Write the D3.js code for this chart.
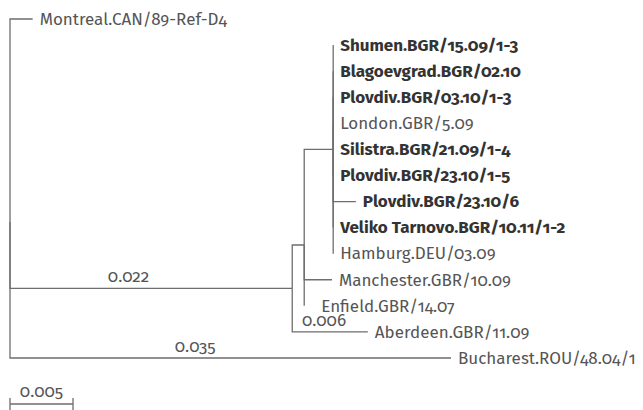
<!DOCTYPE html>
<html>
<head>
<meta charset="utf-8">
<script src="https://cdn.jsdelivr.net/npm/d3@7"></script>
<style>
  body { margin: 0; background: #fff; }
  svg text {
    font-family: "Fira Sans", "Open Sans", "Noto Sans", sans-serif;
    font-variant-numeric: oldstyle-nums;
    font-feature-settings: "onum" 1;
  }
</style>
</head>
<body>
<svg id="tree" width="643" height="410"></svg>
<script>
// tree as flat lists: node id, its parent, branch length (substitutions/site)
var nodeIds = ["root", "Montreal.CAN/89-Ref-D4", "n1", "n2", "n3",
  "Shumen.BGR/15.09/1-3", "Blagoevgrad.BGR/02.10", "Plovdiv.BGR/03.10/1-3",
  "London.GBR/5.09", "Silistra.BGR/21.09/1-4", "Plovdiv.BGR/23.10/1-5",
  "Plovdiv.BGR/23.10/6", "Veliko Tarnovo.BGR/10.11/1-2", "Hamburg.DEU/03.09",
  "Manchester.GBR/10.09", "Enfield.GBR/14.07", "Aberdeen.GBR/11.09",
  "Bucharest.ROU/48.04/1"];
var parentIds = ["", "root", "root", "n1", "n2",
  "n3", "n3", "n3", "n3", "n3", "n3", "n3", "n3", "n3",
  "n2", "n2", "n1", "root"];
var branchLengths = [0, 0.0018, 0.0224, 0.00095, 0.0023,
  0, 0, 0, 0, 0, 0, 0.0018, 0, 0,
  0.0022, 0, 0.006, 0.035];
// strains from this study, drawn in bold
var boldLeaves = ["Shumen.BGR/15.09/1-3", "Blagoevgrad.BGR/02.10",
  "Plovdiv.BGR/03.10/1-3", "Silistra.BGR/21.09/1-4", "Plovdiv.BGR/23.10/1-5",
  "Plovdiv.BGR/23.10/6", "Veliko Tarnovo.BGR/10.11/1-2"];
var scaleBarLength = 0.005;

var rows = nodeIds.map(function (id, i) {
  return { id: id, parent: parentIds[i], length: branchLengths[i] };
});

var root = d3.stratify()
  .id(function (d) { return d.id; })
  .parentId(function (d) { return d.parent; })(rows);

d3.cluster().nodeSize([1, 1]).separation(function () { return 1; })(root);

root.eachBefore(function (d) {
  d.len = d.parent ? d.parent.len + d.data.length : 0;
});

var leaves = root.leaves();

var x = d3.scaleLinear()
  .domain([0, d3.max(leaves, function (d) { return d.len; })])
  .range([10, 451]);
var y = d3.scaleLinear()
  .domain(d3.extent(leaves, function (d) { return d.x; }))
  .range([19, 358]);

var lineColor = "#6e6e6e";
var textColor = "#555";
var svg = d3.select("#tree");

// elbow links
svg.append("g")
  .selectAll("path")
  .data(root.links())
  .enter().append("path")
  .attr("d", function (l) {
    return "M" + x(l.source.len) + "," + y(l.source.x) +
      "V" + y(l.target.x) + "H" + x(l.target.len);
  })
  .attr("fill", "none")
  .attr("stroke", lineColor)
  .attr("stroke-width", 1.3);

// leaf labels; the last leaf of a node whose sibling carries a branch label
// is pushed right a bit so the two texts don't collide
function labelPad(d) {
  var sibs = d.parent.parent ? d.parent.parent.children : [];
  var clash = sibs.some(function (s) { return s.data.length >= 0.005 && s !== d.parent; });
  var last = d.parent.children[d.parent.children.length - 1] === d;
  return (clash && last && d.data.length === 0) ? 17 : 7;
}

svg.append("g")
  .selectAll("text")
  .data(leaves)
  .enter().append("text")
  .attr("x", function (d) { return x(d.len) + labelPad(d); })
  .attr("y", function (d) { return y(d.x); })
  .attr("dy", "0.34em")
  .attr("font-size", "17px")
  .attr("font-weight", function (d) { return boldLeaves.indexOf(d.id) >= 0 ? 700 : 400; })
  .attr("fill", function (d) { return boldLeaves.indexOf(d.id) >= 0 ? "#333" : textColor; })
  .text(function (d) { return d.id; });

// branch length labels on the long branches
var fmt = d3.format(".3f");
svg.append("g")
  .selectAll("text")
  .data(root.descendants().filter(function (d) { return d.data.length >= 0.005; }))
  .enter().append("text")
  .attr("x", function (d) { return x(d.parent.len + d.data.length * 0.42); })
  .attr("y", function (d) { return y(d.x) - 6; })
  .attr("text-anchor", "middle")
  .attr("font-size", "17px")
  .attr("fill", textColor)
  .text(function (d) { return fmt(d.data.length); });

// scale bar
var bar = svg.append("g").attr("transform", "translate(0,404)");
bar.append("path")
  .attr("d", "M" + x(0) + ",-6V6M" + x(0) + ",0H" + x(scaleBarLength) +
    "M" + x(scaleBarLength) + ",-6V6")
  .attr("fill", "none")
  .attr("stroke", lineColor)
  .attr("stroke-width", 1.3);
bar.append("text")
  .attr("x", (x(0) + x(scaleBarLength)) / 2)
  .attr("y", -7)
  .attr("text-anchor", "middle")
  .attr("font-size", "17px")
  .attr("fill", textColor)
  .text(fmt(scaleBarLength));
</script>
</body>
</html>
